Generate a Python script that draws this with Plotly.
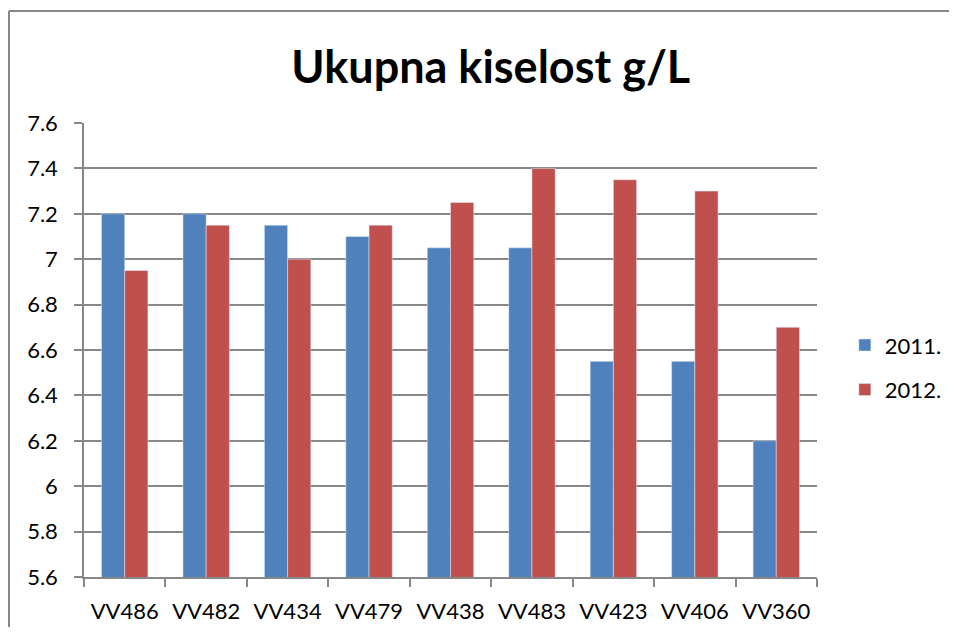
import plotly.graph_objects as go

categories = ["VV486", "VV482", "VV434", "VV479", "VV438", "VV483", "VV423", "VV406", "VV360"]
y2011 = [7.2, 7.2, 7.15, 7.1, 7.05, 7.05, 6.55, 6.55, 6.2]
y2012 = [6.95, 7.15, 7.0, 7.15, 7.25, 7.4, 7.35, 7.3, 6.7]
y_ticks = [5.6, 5.8, 6.0, 6.2, 6.4, 6.6, 6.8, 7.0, 7.2, 7.4, 7.6]
y_tick_text = ["5.6", "5.8", "6", "6.2", "6.4", "6.6", "6.8", "7", "7.2", "7.4", "7.6"]

grey = "#878787"

fig = go.Figure()
fig.add_trace(go.Bar(x=categories, y=y2011, name="2011.", marker_color="#4f81bd", legendgroup="a"))
fig.add_trace(go.Bar(x=categories, y=y2012, name="2012.", marker_color="#c0504d", legendgroup="b"))

# page body has an 8px margin, so the figure is sized to fit inside the window
fig.update_layout(
    width=941, height=619,
    margin=dict(l=76, r=132, t=115, b=50, autoexpand=False),
    paper_bgcolor="white", plot_bgcolor="white",
    font=dict(family="Lato", size=22, color="black"),
    title=dict(text="<b>Ukupna kiselost g/L</b>", x=0.513, xanchor="center",
               y=0.905, yanchor="middle", font=dict(size=45)),
    barmode="group", bargap=0.43, bargroupgap=0,
    legend=dict(x=1.038, y=0.461, xanchor="left", yanchor="middle",
                font=dict(size=22), tracegroupgap=13, itemwidth=30),
    showlegend=True,
)
fig.update_xaxes(
    type="category", showline=True, linecolor=grey, linewidth=1.5,
    ticks="outside", tickson="boundaries", ticklen=8, tickcolor=grey, tickwidth=1.5,
    ticklabelstandoff=14, showgrid=False, automargin=False,
)
fig.update_yaxes(
    range=[5.6, 7.6], tickvals=y_ticks, ticktext=y_tick_text,
    showline=True, linecolor=grey, linewidth=1.5,
    ticks="outside", ticklen=8, tickcolor=grey, tickwidth=1.5, ticklabelstandoff=12,
    showgrid=True, gridcolor=grey, gridwidth=1.5, zeroline=False, automargin=False,
)

# chart border: only the left and top edges are inside the cropped original
bx = (1 - 76) / 733
by = 1 + (115 - 3) / 454
fig.add_shape(type="line", xref="paper", yref="paper", x0=bx, x1=bx, y0=-0.3, y1=by,
              line=dict(color=grey, width=2), layer="below")
fig.add_shape(type="line", xref="paper", yref="paper", x0=bx, x1=1.4, y0=by, y1=by,
              line=dict(color=grey, width=2), layer="below")

# hide any page scrollbar
fig.write_html(
    "out.html",
    post_script="document.documentElement.style.overflow='hidden';document.body.style.overflow='hidden';",
)
